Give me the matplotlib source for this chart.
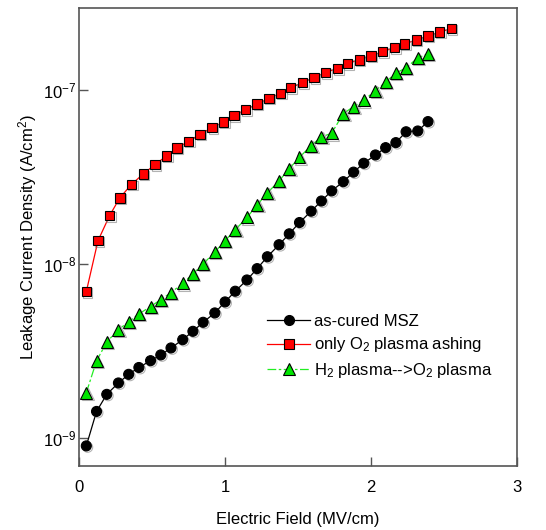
import matplotlib
matplotlib.use('Agg')
import matplotlib.pyplot as plt
import matplotlib.patheffects as pe
from matplotlib.lines import Line2D

plt.rcParams['font.family'] = ['Liberation Sans', 'DejaVu Sans']
plt.rcParams['mathtext.fontset'] = 'custom'
plt.rcParams['mathtext.rm'] = 'Liberation Sans'
plt.rcParams['axes.unicode_minus'] = False

# electric field (MV/cm)
field_a = [0.05, 0.12, 0.19, 0.27, 0.34, 0.41, 0.49, 0.56, 0.63, 0.71, 0.78,
           0.85, 0.93, 1.00, 1.07, 1.15, 1.22, 1.29, 1.37, 1.44, 1.51, 1.59,
           1.66, 1.73, 1.81, 1.88, 1.95, 2.03, 2.10, 2.17, 2.24, 2.32, 2.39]
field_b = [0.05, 0.13, 0.21, 0.28, 0.36, 0.44, 0.52, 0.60, 0.67, 0.75, 0.83,
           0.91, 0.99, 1.06, 1.14, 1.22, 1.30, 1.38, 1.45, 1.53, 1.61, 1.69,
           1.77, 1.84, 1.92, 2.00, 2.08, 2.16, 2.23, 2.31, 2.39, 2.47, 2.55]

# leakage current density (A/cm2)
as_cured = [9.0e-10, 1.42e-9, 1.78e-9, 2.07e-9, 2.32e-9, 2.54e-9, 2.78e-9,
            3.00e-9, 3.29e-9, 3.67e-9, 4.10e-9, 4.62e-9, 5.23e-9, 6.05e-9,
            6.97e-9, 8.09e-9, 9.40e-9, 1.10e-8, 1.29e-8, 1.49e-8, 1.73e-8,
            2.01e-8, 2.30e-8, 2.63e-8, 2.97e-8, 3.37e-8, 3.79e-8, 4.23e-8,
            4.66e-8, 4.98e-8, 5.75e-8, 5.81e-8, 6.58e-8]
o2_only = [6.93e-9, 1.36e-8, 1.90e-8, 2.40e-8, 2.87e-8, 3.29e-8, 3.72e-8,
           4.18e-8, 4.63e-8, 5.07e-8, 5.56e-8, 6.07e-8, 6.54e-8, 7.11e-8,
           7.70e-8, 8.28e-8, 8.95e-8, 9.57e-8, 1.03e-7, 1.10e-7, 1.18e-7,
           1.26e-7, 1.33e-7, 1.42e-7, 1.49e-7, 1.57e-7, 1.66e-7, 1.75e-7,
           1.84e-7, 1.94e-7, 2.04e-7, 2.15e-7, 2.25e-7]
h2_o2 = [1.82e-9, 2.77e-9, 3.56e-9, 4.19e-9, 4.65e-9, 5.16e-9, 5.69e-9,
         6.24e-9, 6.84e-9, 7.74e-9, 8.76e-9, 1.00e-8, 1.17e-8, 1.36e-8,
         1.57e-8, 1.85e-8, 2.18e-8, 2.56e-8, 3.00e-8, 3.53e-8, 4.10e-8,
         4.79e-8, 5.37e-8, 5.64e-8, 7.31e-8, 8.02e-8, 8.72e-8, 9.91e-8,
         1.11e-7, 1.25e-7, 1.34e-7, 1.53e-7, 1.61e-7]

labels = ['as-cured MSZ',
          r'only O$\mathregular{_2}$ plasma ashing',
          r'H$\mathregular{_2}$ plasma-->O$\mathregular{_2}$ plasma']

fig = plt.figure(figsize=(5.46, 5.30), dpi=100)
ax = fig.add_axes([0.1447, 0.1208, 0.8023, 0.8642])

shadow = [pe.SimpleLineShadow(offset=(1, -1), shadow_color='gray', alpha=0.6), pe.Normal()]

series = [
    (field_a, as_cured, 'black', '-', 'o', 'black', 7.2),
    (field_b, o2_only, 'red', '-', 's', '#ff0000', 6.8),
    (field_a, h2_o2, '#22ee22', (0, (7, 2, 2, 2)), '^', '#00e600', 8.6),
]
handles = []
for (x, y, lc, ls, mk, fc, ms), lab in zip(series, labels):
    ax.plot(x, y, color=lc, linestyle=ls, linewidth=0.9, zorder=2)
    ax.plot(x, y, linestyle='none', marker=mk, markersize=ms,
            markerfacecolor=fc, markeredgecolor='black', markeredgewidth=0.8,
            path_effects=shadow, zorder=3)
    handles.append(Line2D([], [], color=lc, linestyle=ls, linewidth=0.9,
                          marker=mk, markersize=ms, markerfacecolor=fc,
                          markeredgecolor='black', markeredgewidth=0.8))

ax.set_yscale('log')
ax.set_xlim(0, 3)
ax.set_ylim(6.9e-10, 2.96e-7)
ax.set_xticks([0, 1, 2, 3])
ax.set_xticklabels(['0', '1', '2', '3'])
ax.set_yticks([1e-9, 1e-8, 1e-7])
ax.set_yticklabels([r'10$\mathregular{^{-9}}$', r'10$\mathregular{^{-8}}$',
                    r'10$\mathregular{^{-7}}$'])
ax.minorticks_off()
ax.tick_params(axis='both', direction='in', length=6.5, width=1.0,
               color='#555555', labelsize=12)
ax.tick_params(axis='x', pad=10)
ax.tick_params(axis='y', pad=2)
for s in ax.spines.values():
    s.set_color('#555555')
    s.set_linewidth(1.2)

ax.set_xlabel('Electric Field (MV/cm)', fontsize=12, labelpad=12)
ax.set_ylabel(r'Leakage Current Density (A/cm$\mathregular{^2}$)', fontsize=12, labelpad=3)

ax.legend(handles, labels, loc='center left', bbox_to_anchor=(0.395, 0.26),
          frameon=False, fontsize=12, handlelength=2.6, handletextpad=0.2,
          labelspacing=0.4)

fig.savefig('out.png', dpi=100)
